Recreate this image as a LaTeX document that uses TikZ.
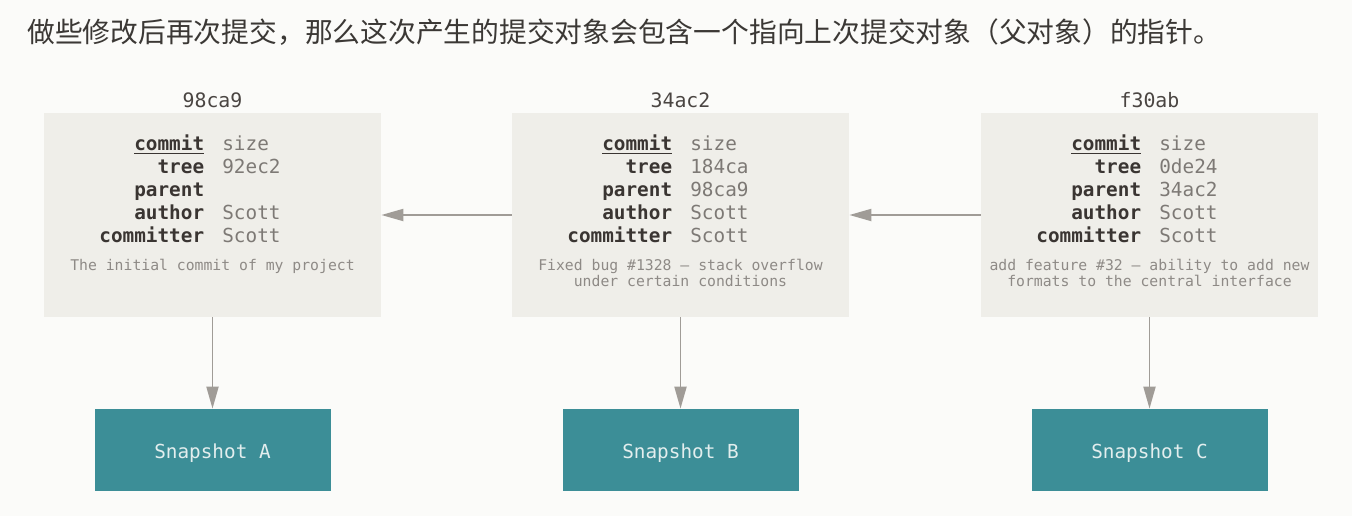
\documentclass[tikz,border=0pt]{standalone}
\usepackage{fontspec}
\setmonofont{DejaVu Sans Mono}
\newfontfamily\cjk{Noto Sans CJK SC}
\usetikzlibrary{arrows.meta}

\definecolor{paper}{HTML}{FBFBF9}
\definecolor{boxgray}{HTML}{EFEEE9}
\definecolor{keydark}{HTML}{3A3532}
\definecolor{valgray}{HTML}{7D7975}
\definecolor{msggray}{HTML}{8E8A86}
\definecolor{hashgray}{HTML}{4A4542}
\definecolor{arrowgray}{HTML}{A09C97}
\definecolor{snapteal}{HTML}{3C8E97}
\definecolor{snaptext}{HTML}{E3EEEE}
\definecolor{captiondark}{HTML}{3B3835}

\tikzset{
  commitbox/.style={fill=boxgray, minimum width=6.74cm, minimum height=4.08cm, inner sep=0},
  snapbox/.style={fill=snapteal, minimum width=4.72cm, minimum height=1.64cm, inner sep=0,
    text height=1.16em, text depth=0.24em,
    text=snaptext, font=\ttfamily\fontsize{11}{13}\selectfont},
  hashlabel/.style={anchor=base, inner sep=0, text=hashgray, font=\ttfamily\fontsize{11.3}{13}\selectfont},
  fieldkeys/.style={anchor=north east, align=right, inner sep=0, text=keydark,
    font=\ttfamily\bfseries\fontsize{11}{13.1}\selectfont},
  fieldvals/.style={anchor=north west, align=left, inner sep=0, text=valgray,
    font=\ttfamily\fontsize{11}{13.1}\selectfont},
  commitmsg/.style={anchor=north, align=center, inner sep=0, text=msggray,
    font=\ttfamily\fontsize{8.4}{9.4}\selectfont},
  pointer/.style={draw=arrowgray, line width=1.1pt, -{Triangle[length=0.44cm,width=0.24cm]}}
}

\begin{document}
\begin{tikzpicture}
\fill[paper] (0,0) rectangle (27.04,10.32);
\useasboundingbox (0,0) rectangle (27.04,10.32);

% caption line
\node[anchor=west, inner sep=0, text=captiondark, font=\cjk\fontsize{15.8}{18}\selectfont] (caption) at (0.54,9.68)
  {做些修改后再次提交，那么这次产生的提交对象会包含一个指向上次提交对象（父对象）的指针。};

% commit objects
\node[commitbox] (commitA) at (4.25,6.02) {};
\node[commitbox] (commitB) at (13.61,6.02) {};
\node[commitbox] (commitC) at (22.99,6.02) {};

\node[hashlabel] (hashA) at (4.25,8.18) {98ca9};
\node[hashlabel] (hashB) at (13.61,8.18) {34ac2};
\node[hashlabel] (hashC) at (22.99,8.18) {f30ab};

\node[fieldkeys] (keysA) at (4.09,7.64) {\strut\underline{commit}\\tree\\parent\\author\\committer};
\node[fieldvals] (valsA) at (4.44,7.64) {\strut size\\92ec2\\\strut\\Scott\\Scott};
\node[commitmsg] (msgA) at (4.25,5.15) {\strut The initial commit of my project};

\node[fieldkeys] (keysB) at (13.45,7.64) {\strut\underline{commit}\\tree\\parent\\author\\committer};
\node[fieldvals] (valsB) at (13.80,7.64) {\strut size\\184ca\\98ca9\\Scott\\Scott};
\node[commitmsg] (msgB) at (13.61,5.15) {\strut Fixed bug \#1328 – stack overflow\\under certain conditions};

\node[fieldkeys] (keysC) at (22.83,7.64) {\strut\underline{commit}\\tree\\parent\\author\\committer};
\node[fieldvals] (valsC) at (23.18,7.64) {\strut size\\0de24\\34ac2\\Scott\\Scott};
\node[commitmsg] (msgC) at (22.99,5.15) {\strut add feature \#32 – ability to add new\\formats to the central interface};

% snapshots
\node[snapbox] (snapA) at (4.25,1.32) {Snapshot A};
\node[snapbox] (snapB) at (13.61,1.32) {Snapshot B};
\node[snapbox] (snapC) at (22.99,1.32) {Snapshot C};

% pointers
\draw[pointer] (commitB.west) -- (commitA.east);
\draw[pointer] (commitC.west) -- (commitB.east);
\draw[pointer] (commitA.south) -- (snapA.north);
\draw[pointer] (commitB.south) -- (snapB.north);
\draw[pointer] (commitC.south) -- (snapC.north);
\end{tikzpicture}
\end{document}
